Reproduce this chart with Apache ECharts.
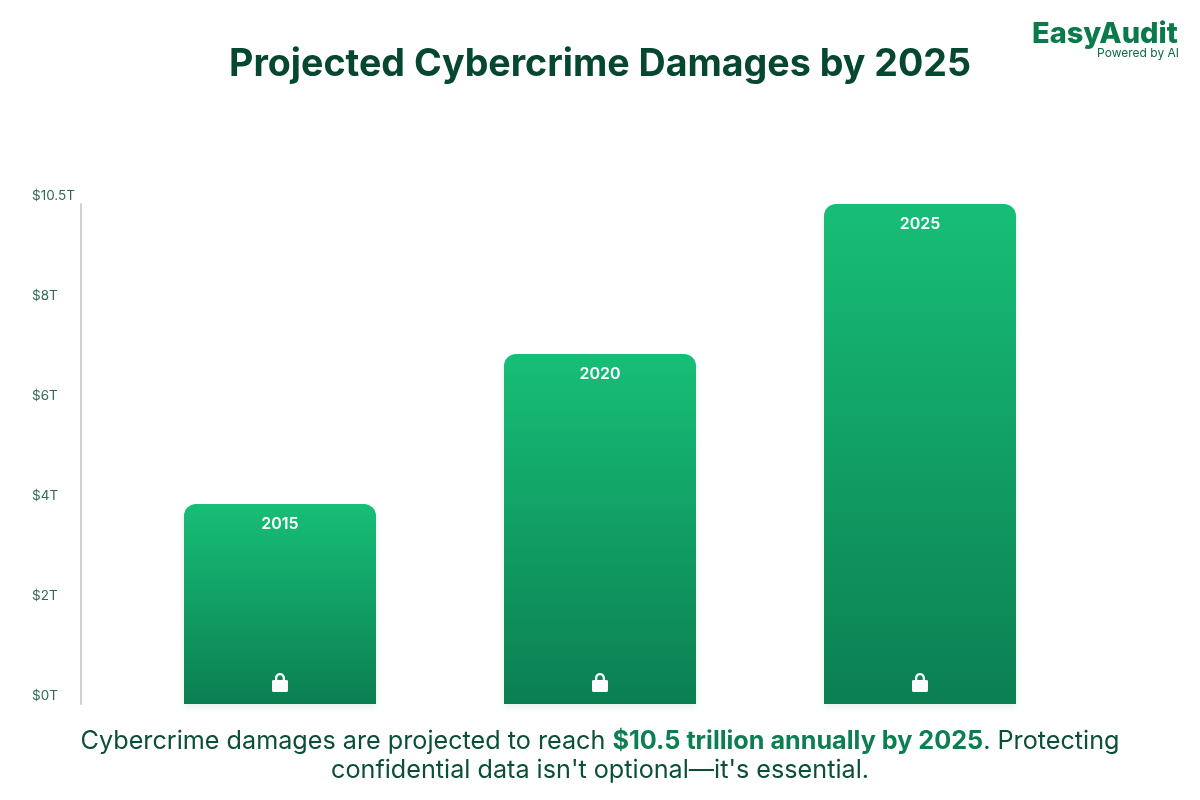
<!DOCTYPE html>
<html><head><meta charset="utf-8">
<style>html,body{margin:0;padding:0;background:#fff}#c{width:1200px;height:800px}</style>
<script src="https://cdn.jsdelivr.net/npm/echarts@6/dist/echarts.min.js"></script>
</head><body><div id="c"></div>
<script>
const categories = ['2015', '2020', '2025'];
const values = [4, 7, 10];
const lockBase = [0, 0, 0];
const tickLabels = ['$0T', '$2T', '$4T', '$6T', '$8T', '$10.5T'];
const titleText = 'Projected Cybercrime Damages by 2025';
const captionBefore = 'Cybercrime damages are projected to reach ';
const captionBold = '$10.5 trillion annually by 2025';
const captionAfter = '. Protecting';
const captionLine2 = "confidential data isn't optional\u2014it's essential.";
const FONT = 'Inter, "Open Sans", sans-serif';
const lockPath = 'path://M3 7V5C3 2.200 5.200 0 8 0s5 2.200 5 5V7h1.500C15.300 7 16 7.700 16 8.500V17.500C16 18.300 15.300 19 14.500 19H1.500C0.700 19 0 18.300 0 17.500V8.500C0 7.700 0.700 7 1.500 7H3zM5.300 7h5.400V5C10.700 3.500 9.500 2.300 8 2.300S5.300 3.500 5.300 5V7z';
const chart = echarts.init(document.getElementById('c'), null, {renderer: 'canvas'});
chart.setOption({
  animation: false,
  backgroundColor: '#fff',
  title: [{
    text: titleText, left: 'center', top: 36,
    textStyle: {fontFamily: FONT, fontSize: 37.600, fontWeight: 700, color: '#05472F', lineHeight: 48}
  }, {
    text: '{n|' + captionBefore + '}{b|' + captionBold + '}{n|' + captionAfter + '}',
    left: 'center', top: 721,
    textStyle: {
      rich: {
        n: {fontFamily: FONT, fontSize: 25.200, fontWeight: 400, color: '#0B4F38', lineHeight: 30},
        b: {fontFamily: FONT, fontSize: 25.200, fontWeight: 700, color: '#0B7F52', lineHeight: 30}
      }
    }
  }, {
    text: captionLine2, left: 'center', top: 750,
    textStyle: {fontFamily: FONT, fontSize: 25.200, fontWeight: 400, color: '#0B4F38', lineHeight: 30}
  }],
  graphic: [
    {type: 'text', left: 1032, top: 20, style: {text: 'EasyAudit', fontFamily: FONT, fontSize: 29, fontWeight: 800, fill: '#0B7A4B'}},
    {type: 'text', right: 21, top: 47, style: {text: 'Powered by AI', fontFamily: FONT, fontSize: 12, fill: '#0B6B45'}}
  ],
  grid: {left: 120, right: 120, top: 204, bottom: 96},
  xAxis: {
    type: 'category', data: categories,
    axisLine: {show: false}, axisTick: {show: false}, axisLabel: {show: false}, splitLine: {show: false}
  },
  yAxis: {
    type: 'value', min: 0, max: 10, interval: 2, offset: 39,
    axisLine: {show: true, lineStyle: {color: '#D0D0D0', width: 2}},
    axisTick: {show: false}, splitLine: {show: false},
    axisLabel: {
      formatter: (v) => tickLabels[v / 2],
      align: 'left', margin: 49, verticalAlign: 'bottom', lineHeight: 16, padding: 0,
      fontFamily: FONT, fontSize: 13.500, color: '#2F6B52'
    }
  },
  series: [{
    type: 'bar', data: values, barWidth: 192,
    itemStyle: {
      borderRadius: [12, 12, 0, 0],
      color: {type: 'linear', x: 0, y: 0, x2: 0, y2: 1, colorStops: [
        {offset: 0, color: '#17BE77'}, {offset: 1, color: '#0B7F52'}
      ]},
      shadowColor: 'rgba(11,127,82,0.10)', shadowBlur: 6, shadowOffsetY: 4
    },
    label: {
      show: true, position: 'insideTop', distance: 12, formatter: '{b}',
      fontFamily: FONT, fontSize: 16, fontWeight: 600, color: '#fff'
    }
  }, {
    type: 'scatter', data: lockBase, symbol: lockPath, symbolSize: [16, 19],
    symbolOffset: [0, -21.500], itemStyle: {color: '#fff', opacity: 1}, z: 5, silent: true
  }]
});
</script></body></html>
